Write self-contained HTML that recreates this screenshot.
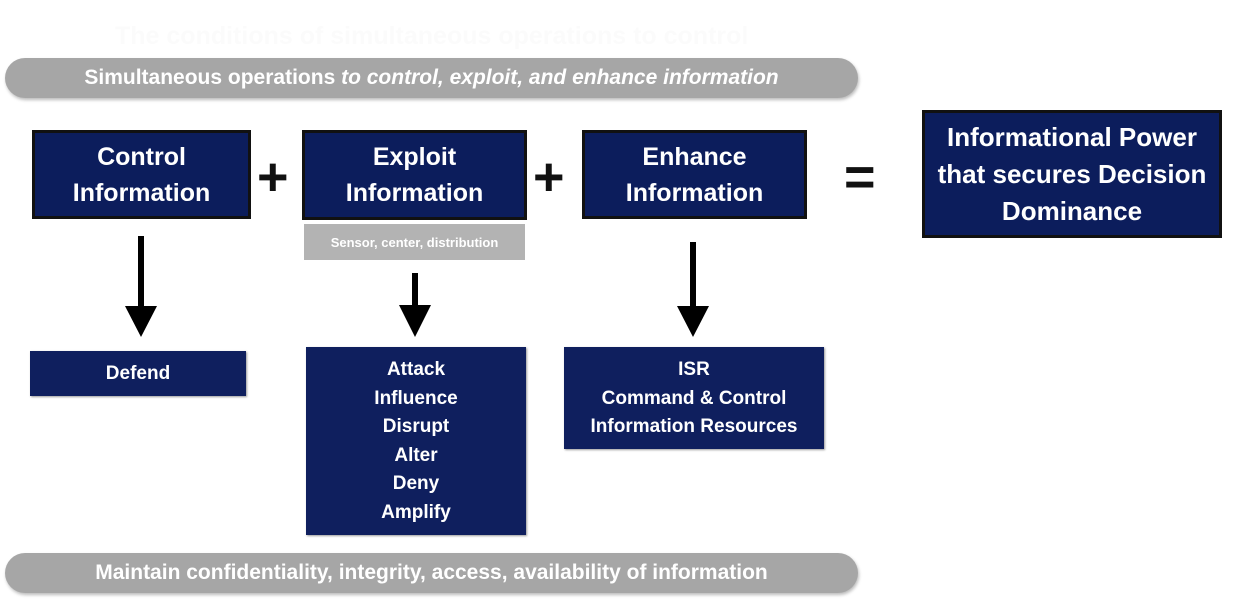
<!DOCTYPE html>
<html><head><style>
body{margin:0;width:1234px;height:603px;background:#fff;position:relative;overflow:hidden;font-family:"Liberation Sans",sans-serif;}
.b{position:absolute;background:#0c1d5c;border:3px solid #111;box-sizing:border-box;color:#fff;font-weight:bold;display:flex;align-items:center;justify-content:center;text-align:center;}
.s{position:absolute;background:#0f1f5e;color:#fff;font-weight:bold;text-align:center;font-size:19px;box-sizing:border-box;box-shadow:1px 1px 2px #999;}
.pill{position:absolute;left:5px;width:853px;height:40px;border-radius:20px;background:#a6a6a6;color:#fff;font-weight:bold;font-size:21px;display:flex;align-items:center;justify-content:center;box-shadow:1px 2px 3px #bbb;}
.op{position:absolute;font-size:54px;font-weight:bold;color:#111;line-height:1;}
</style></head><body>
<div style="position:absolute;left:115px;top:22px;font-size:25px;color:#fbfbfb;font-weight:bold;">The conditions of simultaneous operations to control</div>
<div class="pill" style="top:58px;">Simultaneous operations&nbsp;<i>to control, exploit, and enhance information</i></div>
<div class="b" style="left:32px;top:130px;width:219px;height:89px;font-size:25px;line-height:36px;">Control<br>Information</div>
<div class="b" style="left:302px;top:130px;width:225px;height:90px;font-size:25px;line-height:36px;">Exploit<br>Information</div>
<div style="position:absolute;left:304px;top:224px;width:221px;height:36px;background:#b3b3b3;color:#fff;font-size:13px;font-weight:bold;display:flex;align-items:center;justify-content:center;">Sensor, center, distribution</div>
<div class="b" style="left:582px;top:130px;width:225px;height:89px;font-size:25px;line-height:36px;">Enhance<br>Information</div>
<div class="b" style="left:922px;top:110px;width:300px;height:128px;font-size:26px;line-height:37px;">Informational Power<br>that secures Decision<br>Dominance</div>
<div class="op" style="left:257px;top:150px;">+</div>
<div class="op" style="left:533px;top:150px;">+</div>
<div class="op" style="left:844px;top:150px;">=</div>
<svg style="position:absolute;left:0;top:0" width="1234" height="603">
<g fill="#000">
<rect x="138" y="236" width="6" height="72"/><polygon points="125,306 157,306 141,337"/>
<rect x="412" y="273" width="6" height="34"/><polygon points="399,305 431,305 415,337"/>
<rect x="690" y="242" width="6" height="66"/><polygon points="677,306 709,306 693,337"/>
</g></svg>
<div class="s" style="left:30px;top:351px;width:216px;height:45px;line-height:45px;">Defend</div>
<div class="s" style="left:306px;top:347px;width:220px;height:188px;padding-top:9px;line-height:28.6px;">Attack<br>Influence<br>Disrupt<br>Alter<br>Deny<br>Amplify</div>
<div class="s" style="left:564px;top:347px;width:260px;height:102px;padding-top:9px;line-height:28.6px;">ISR<br>Command &amp; Control<br>Information Resources</div>
<div class="pill" style="top:553px;">Maintain confidentiality, integrity, access, availability of information</div>
</body></html>
